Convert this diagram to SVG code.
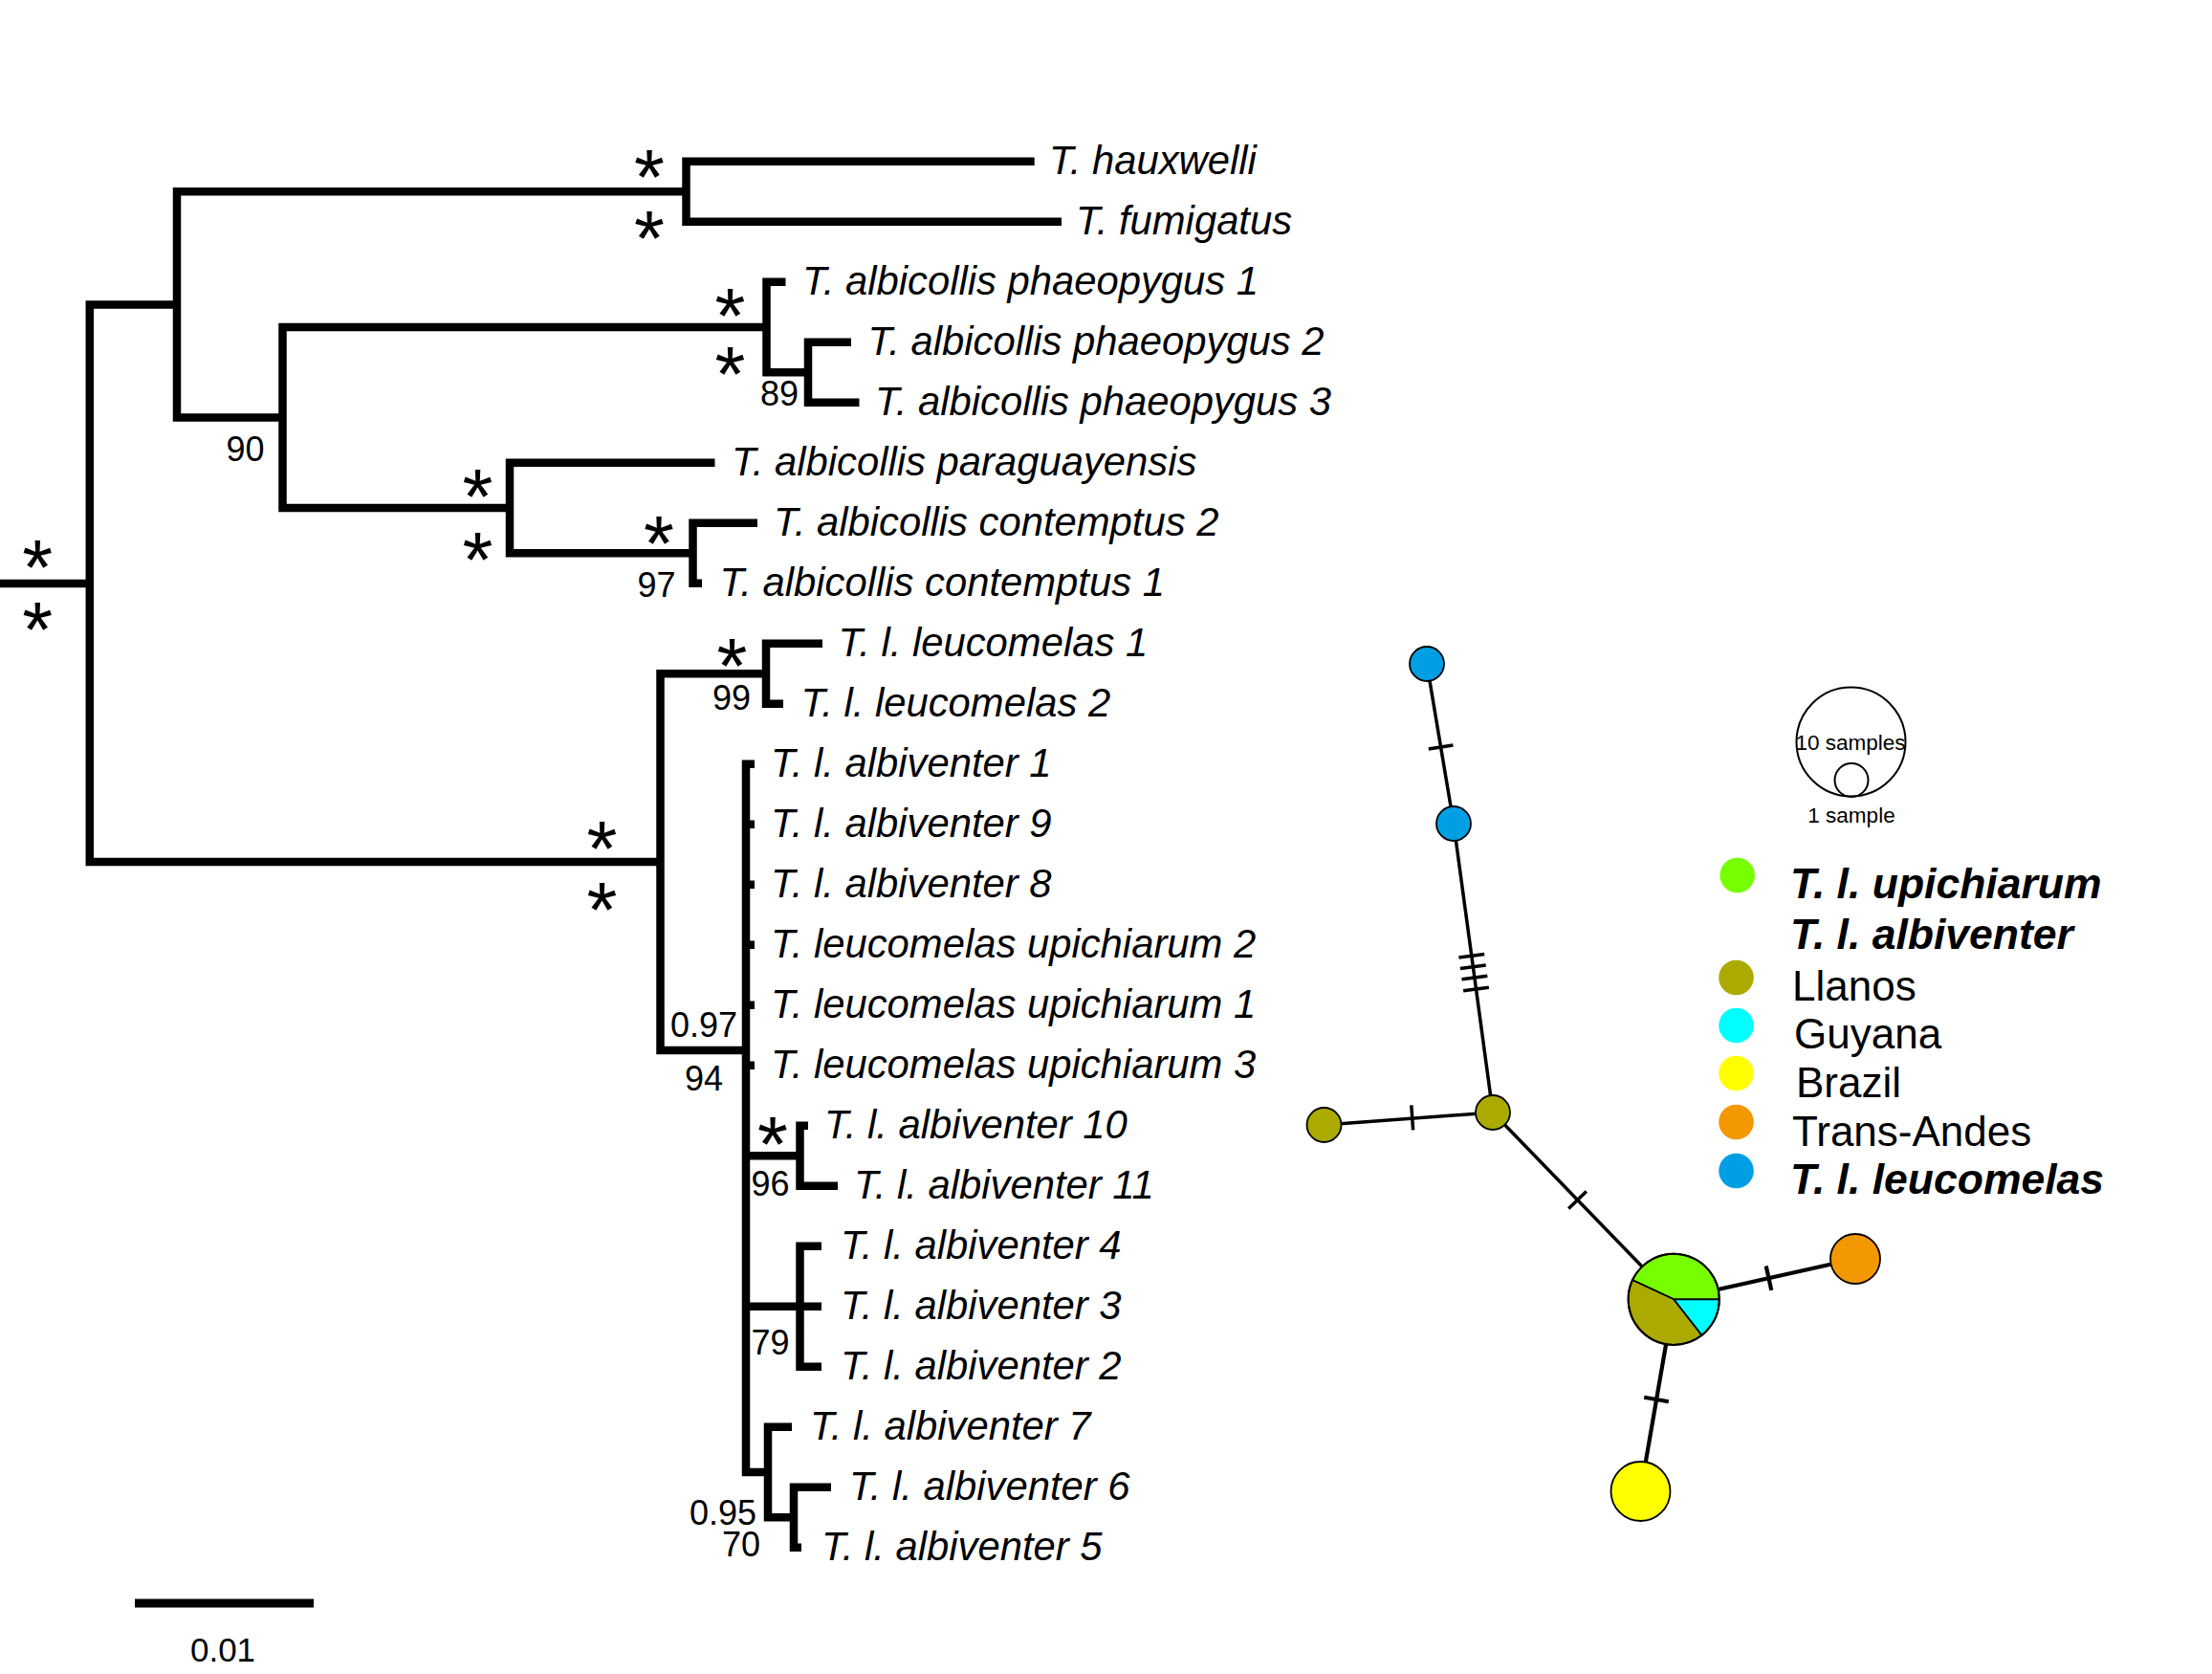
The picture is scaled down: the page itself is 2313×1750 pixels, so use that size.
<svg xmlns="http://www.w3.org/2000/svg" width="2313" height="1750" viewBox="0 0 2313 1750">
<style>
.br{fill:none;stroke:#000;stroke-width:8.5;stroke-linejoin:miter;stroke-linecap:butt}
.lab{font-family:"Liberation Sans",Arial,sans-serif;font-style:italic;font-size:41.8px;fill:#000}
.sup{font-family:"Liberation Sans",Arial,sans-serif;font-size:36px;fill:#000;text-anchor:middle}
.ast{font-family:"Liberation Sans",Arial,sans-serif;font-size:82px;fill:#000;text-anchor:middle}
.nl{fill:none;stroke:#000;stroke-width:3.5}
.nt{fill:none;stroke:#000;stroke-width:3.5}
.nd{stroke:#000;stroke-width:1.8}
.lg{font-family:"Liberation Sans",Arial,sans-serif;font-size:44px;fill:#000}
.lgb{font-family:"Liberation Sans",Arial,sans-serif;font-size:44.5px;font-weight:bold;font-style:italic;fill:#000}
.sm{font-family:"Liberation Sans",Arial,sans-serif;font-size:22.5px;fill:#000;text-anchor:middle}
</style>
<rect width="2313" height="1750" fill="#fff"/>

<g id="tree-branches">
<path class="br" d="M0 610 H93.8"/>
<path class="br" d="M185 318.4 H93.8 V901 H690.5"/>
<path class="br" d="M717.5 200.3 H185 V436.5 H295.5"/>
<path class="br" d="M1081.7 168.8 H717.5 V231.8 H1110"/>
<path class="br" d="M801.5 342 H295.5 V531 H533"/>
<path class="br" d="M821.5 294.8 H801.5 V389.3 H845"/>
<path class="br" d="M890 357.8 H845 V420.8 H898.5"/>
<path class="br" d="M747.5 483.8 H533 V578.3 H724.5"/>
<path class="br" d="M792 546.8 H724.5 V609.8 H734"/>
<path class="br" d="M801 704.3 H690.5 V1098 H780"/>
<path class="br" d="M860 672.8 H801 V735.8 H819"/>
<path class="br" d="M789 798.8 H780 V1539 H803"/>
<path class="br" d="M780 861.8 H789 M780 924.8 H789 M780 987.8 H789 M780 1050.8 H789 M780 1113.8 H789"/>
<path class="br" d="M780 1208.3 H836.5 M780 1365.8 H836.5"/>
<path class="br" d="M845 1176.8 H836.5 V1239.8 H876"/>
<path class="br" d="M859 1302.8 H836.5 V1428.8 H859 M836.5 1365.8 H859"/>
<path class="br" d="M828 1491.8 H803 V1586.3 H830"/>
<path class="br" d="M869 1554.8 H830 V1617.8 H838"/>
</g>

<g id="tree-labels">
<text class="lab" x="1097" y="182.3">T. hauxwelli</text>
<text class="lab" x="1125" y="245.3">T. fumigatus</text>
<text class="lab" x="839" y="308.3">T. albicollis phaeopygus 1</text>
<text class="lab" x="907.5" y="371.3">T. albicollis phaeopygus 2</text>
<text class="lab" x="915" y="434.3">T. albicollis phaeopygus 3</text>
<text class="lab" x="765" y="497.3">T. albicollis paraguayensis</text>
<text class="lab" x="809" y="560.3">T. albicollis contemptus 2</text>
<text class="lab" x="752.5" y="623.3">T. albicollis contemptus 1</text>
<text class="lab" x="876.5" y="686.3">T. l. leucomelas 1</text>
<text class="lab" x="837.5" y="749.3">T. l. leucomelas 2</text>
<text class="lab" x="806" y="812.3">T. l. albiventer 1</text>
<text class="lab" x="806" y="875.3">T. l. albiventer 9</text>
<text class="lab" x="806" y="938.3">T. l. albiventer 8</text>
<text class="lab" x="806" y="1001.3">T. leucomelas upichiarum 2</text>
<text class="lab" x="806" y="1064.3">T. leucomelas upichiarum 1</text>
<text class="lab" x="806" y="1127.3">T. leucomelas upichiarum 3</text>
<text class="lab" x="862" y="1190.3">T. l. albiventer 10</text>
<text class="lab" x="893" y="1253.3">T. l. albiventer 11</text>
<text class="lab" x="879" y="1316.3">T. l. albiventer 4</text>
<text class="lab" x="879" y="1379.3">T. l. albiventer 3</text>
<text class="lab" x="879" y="1442.3">T. l. albiventer 2</text>
<text class="lab" x="847" y="1505.3">T. l. albiventer 7</text>
<text class="lab" x="888" y="1568.3">T. l. albiventer 6</text>
<text class="lab" x="859" y="1631.3">T. l. albiventer 5</text>
</g>

<g id="support-values">
<text class="sup" x="256.4" y="482">90</text>
<text class="sup" x="815" y="423.5">89</text>
<text class="sup" x="686.5" y="623.5">97</text>
<text class="sup" x="765" y="742">99</text>
<text class="sup" x="736" y="1083.5">0.97</text>
<text class="sup" x="736" y="1140">94</text>
<text class="sup" x="805.4" y="1250">96</text>
<text class="sup" x="805.4" y="1416">79</text>
<text class="sup" x="756" y="1593.5">0.95</text>
<text class="sup" x="775" y="1626.7">70</text>
</g>

<g id="asterisks">
<text class="ast" x="39.3" y="621">*</text>
<text class="ast" x="39.3" y="686">*</text>
<text class="ast" x="679" y="213">*</text>
<text class="ast" x="679" y="276.7">*</text>
<text class="ast" x="763.5" y="357.5">*</text>
<text class="ast" x="763.5" y="418.5">*</text>
<text class="ast" x="499.5" y="546.7">*</text>
<text class="ast" x="499.5" y="612.8">*</text>
<text class="ast" x="689" y="595.6">*</text>
<text class="ast" x="629.5" y="915">*</text>
<text class="ast" x="629.5" y="979">*</text>
<text class="ast" x="765.5" y="724">*</text>
<text class="ast" x="808" y="1224">*</text>
</g>

<g id="scale-bar">
<path d="M141 1676 H328" stroke="#000" stroke-width="9" fill="none"/>
<text class="sup" x="233" y="1737" style="font-size:35px">0.01</text>
</g>

<g id="network-edges">
<path class="nl" d="M1492 694 L1520 861"/>
<path class="nl" d="M1520 861 L1561 1163"/>
<path class="nl" d="M1561 1163 L1384.5 1176"/>
<path class="nl" d="M1561 1163 L1750.2 1358.3"/>
<path class="nl" d="M1750.2 1358.3 L1940 1316" style="stroke-width:4.2"/>
<path class="nl" d="M1750.2 1358.3 L1715.5 1559" style="stroke-width:4.2"/>
<path class="nt" d="M1493.8 783.1 L1519.4 778.9"/>
<path class="nt" d="M1525.4 1001.1 L1552.2 997.5 M1526.9 1012.5 L1553.7 1008.9 M1528.5 1023.8 L1555.3 1020.2 M1530.1 1035.8 L1556.9 1032.2"/>
<path class="nt" d="M1475.8 1155.3 L1477.6 1181.3"/>
<path class="nt" d="M1640.2 1263.4 L1658.8 1245.4"/>
<path class="nt" d="M1846.7 1323.5 L1852.3 1348.9" style="stroke-width:4.2"/>
<path class="nt" d="M1719.2 1460.8 L1744.8 1465.2" style="stroke-width:4.2"/>
</g>

<g id="hap-leucomelas-1"><circle class="nd" cx="1492" cy="694" r="18" fill="#009FE3"/></g>
<g id="hap-leucomelas-2"><circle class="nd" cx="1520" cy="861" r="18" fill="#009FE3"/></g>
<g id="hap-llanos-1"><circle class="nd" cx="1561" cy="1163" r="18" fill="#AAAA00"/></g>
<g id="hap-llanos-2"><circle class="nd" cx="1384.5" cy="1176" r="18" fill="#AAAA00"/></g>
<g id="hap-transandes"><circle class="nd" cx="1940" cy="1316" r="26" fill="#F39800"/></g>
<g id="hap-brazil"><circle class="nd" cx="1715.5" cy="1559" r="31" fill="#FFFF00"/></g>
<g id="hap-main-pie">
<path d="M1750.2 1358.3 L1797.8 1358.3 A47.6 47.6 0 0 0 1707.1 1338.2 Z" fill="#77FF00" stroke="#000" stroke-width="1.8"/>
<path d="M1750.2 1358.3 L1707.1 1338.2 A47.6 47.6 0 0 0 1779.5 1395.8 Z" fill="#AAAA00" stroke="#000" stroke-width="1.8"/>
<path d="M1750.2 1358.3 L1779.5 1395.8 A47.6 47.6 0 0 0 1797.8 1358.3 Z" fill="#00FFFF" stroke="#000" stroke-width="1.8"/>
<circle cx="1750.2" cy="1358.3" r="47.6" fill="none" stroke="#000" stroke-width="2"/>
</g>

<g id="size-legend">
<circle cx="1935.5" cy="775.5" r="57" fill="none" stroke="#000" stroke-width="2"/>
<circle cx="1936" cy="815.5" r="17.5" fill="none" stroke="#000" stroke-width="2"/>
<text class="sm" x="1935" y="784">10 samples</text>
<text class="sm" x="1936" y="860">1 sample</text>
</g>

<g id="colour-legend">
<circle cx="1816.7" cy="915" r="18.3" fill="#77FF00"/>
<circle cx="1815.5" cy="1022" r="18.3" fill="#AAAA00"/>
<circle cx="1815.5" cy="1072" r="18.3" fill="#00FFFF"/>
<circle cx="1815.5" cy="1122" r="18.3" fill="#FFFF00"/>
<circle cx="1815.5" cy="1173" r="18.3" fill="#F39800"/>
<circle cx="1815.5" cy="1224" r="18.3" fill="#009FE3"/>
<text class="lgb" x="1872" y="939">T. l. upichiarum</text>
<text class="lgb" x="1872" y="992">T. l. albiventer</text>
<text class="lg" x="1874" y="1046">Llanos</text>
<text class="lg" x="1876" y="1096">Guyana</text>
<text class="lg" x="1878" y="1147">Brazil</text>
<text class="lg" x="1874" y="1198">Trans-Andes</text>
<text class="lgb" x="1872" y="1248">T. l. leucomelas</text>
</g>
</svg>
